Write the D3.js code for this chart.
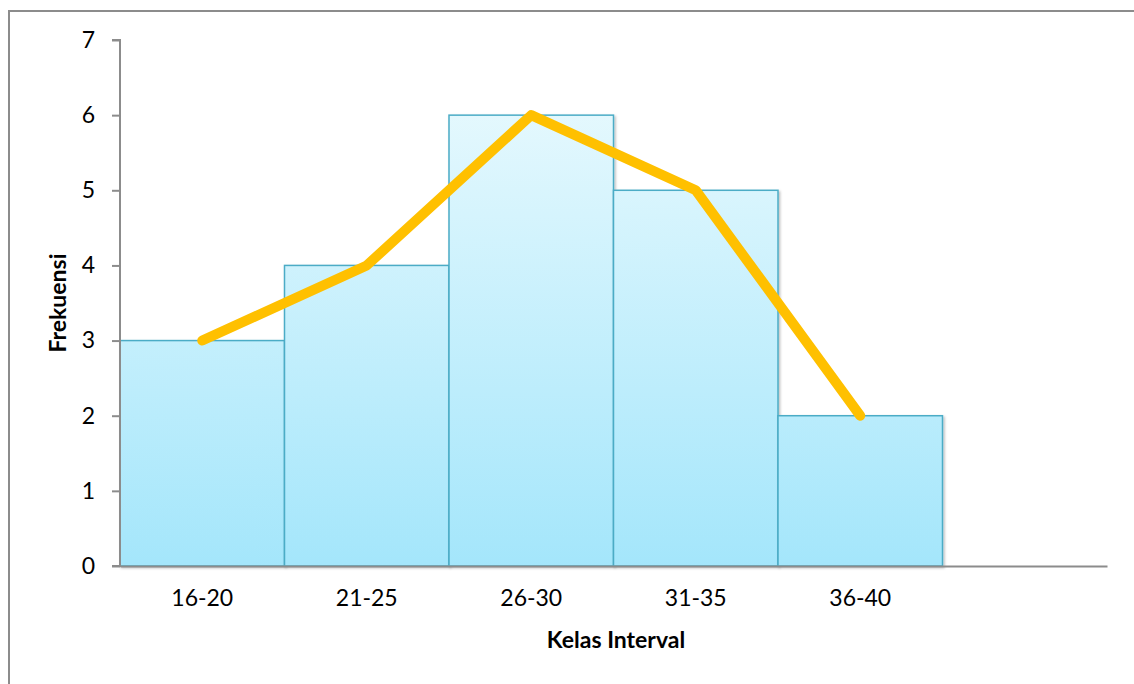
<!DOCTYPE html>
<html>
<head>
<meta charset="utf-8">
<script src="https://cdn.jsdelivr.net/npm/d3@7"></script>
<style>
  html, body { margin: 0; padding: 0; background: #fff; }
  svg { display: block; }
  text { font-family: Lato, "Open Sans", "Liberation Sans", sans-serif; fill: #000; }
</style>
</head>
<body>
<script>
// Frequency histogram with polygon overlay
const categories = ["16-20", "21-25", "26-30", "31-35", "36-40", ""];
const frequencies = [3, 4, 6, 5, 2];
const yTicks = [0, 1, 2, 3, 4, 5, 6, 7];
const xTitle = "Kelas Interval";
const yTitle = "Frekuensi";

const W = 1134, H = 684;
const plotLeft = 120, plotRight = 1107, plotTop = 40, plotBottom = 566;

const svg = d3.select("body").append("svg").attr("width", W).attr("height", H);

// outer frame
svg.append("path")
  .attr("d", `M9,${H + 5} L9,11 L${W + 5},11`)
  .attr("fill", "none").attr("stroke", "#8c8c8c").attr("stroke-width", 2);

const defs = svg.append("defs");
const grad = defs.append("linearGradient").attr("id", "barFill")
  .attr("gradientUnits", "userSpaceOnUse")
  .attr("x1", 0).attr("x2", 0)
  .attr("y1", plotTop).attr("y2", plotBottom);
grad.append("stop").attr("offset", "0%").attr("stop-color", "#eefbfe");
grad.append("stop").attr("offset", "100%").attr("stop-color", "#a4e6fb");

const shadow = defs.append("filter").attr("id", "shadow")
  .attr("x", "-5%").attr("y", "-5%").attr("width", "115%").attr("height", "115%");
shadow.append("feDropShadow").attr("dx", 1.5).attr("dy", 1.5).attr("stdDeviation", 1.2)
  .attr("flood-color", "#000").attr("flood-opacity", 0.25);

const x = d3.scaleBand().domain(categories).range([plotLeft, plotRight]).padding(0);
const y = d3.scaleLinear().domain([0, 7]).range([plotBottom, plotTop]);

// bars
svg.append("g").selectAll("rect")
  .data(frequencies)
  .join("rect")
  .attr("x", (d, i) => x(categories[i]))
  .attr("y", d => y(d))
  .attr("width", x.bandwidth())
  .attr("height", d => y(0) - y(d))
  .attr("fill", "url(#barFill)")
  .attr("stroke", "#4bacc6")
  .attr("stroke-width", 1.5)
  .attr("filter", "url(#shadow)");

// y axis
const yAxis = svg.append("g").attr("transform", `translate(${plotLeft},0)`)
  .call(d3.axisLeft(y).tickValues(yTicks).tickSize(8).tickPadding(17).tickFormat(d3.format("d")));
yAxis.select(".domain").attr("stroke", "#8c8c8c").attr("stroke-width", 2)
  .attr("d", `M-8,${plotTop}H0V${plotBottom}H-8`);
yAxis.selectAll(".tick line").attr("stroke", "#8c8c8c").attr("stroke-width", 2);
yAxis.selectAll(".tick text").attr("font-size", 23).attr("fill", "#000");

// x axis
const xAxis = svg.append("g").attr("transform", `translate(0,${plotBottom})`)
  .call(d3.axisBottom(x).tickSize(0).tickPadding(24));
xAxis.select(".domain").attr("stroke", "#8c8c8c").attr("stroke-width", 2);
xAxis.selectAll(".tick text").attr("font-size", 23).attr("fill", "#000");

// frequency polygon
const line = d3.line()
  .x((d, i) => x(categories[i]) + x.bandwidth() / 2)
  .y(d => y(d));
svg.append("path")
  .datum(frequencies)
  .attr("d", line)
  .attr("fill", "none")
  .attr("stroke", "#ffc000")
  .attr("stroke-width", 10)
  .attr("stroke-linecap", "round")
  .attr("stroke-linejoin", "round");

// axis titles
svg.append("text")
  .attr("x", 616).attr("y", 648)
  .attr("text-anchor", "middle")
  .attr("font-size", 23).attr("font-weight", "bold")
  .text(xTitle);
svg.append("text")
  .attr("transform", "translate(66,303) rotate(-90)")
  .attr("text-anchor", "middle")
  .attr("font-size", 23).attr("font-weight", "bold")
  .text(yTitle);
</script>
</body>
</html>
